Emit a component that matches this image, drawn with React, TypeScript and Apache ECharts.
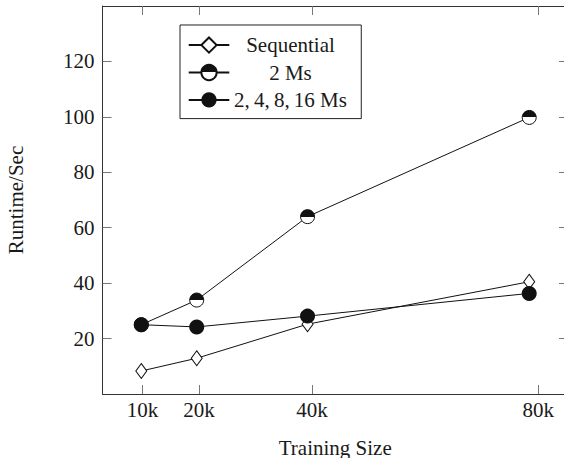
import React, { useEffect, useRef } from "react";
import * as echarts from "echarts";

const xValues = [9.8, 19.6, 39.2, 78.4];
const xTickValues = [10, 20, 40, 80];
const xTickLabels = ["10k", "20k", "40k", "80k"];
const yTickValues = [20, 40, 60, 80, 100, 120];
const sequential = [8.3, 12.9, 25.2, 40.5];
const twoMs = [25, 33.9, 64, 99.8];
const multiMs = [25, 24.2, 28.1, 36.3];
const seriesNames = ["Sequential", "2 Ms", "2,\u20094,\u20098,\u200916 Ms"];

const FONT = "Liberation Serif";
const TEXT = "#1a1a1a";

export default function App() {
  const ref = useRef<HTMLDivElement>(null);
  useEffect(() => {
    if (!ref.current) return;
    const chart = echarts.init(ref.current, null, { renderer: "svg" });
    const halfFill = new echarts.graphic.LinearGradient(0, 0, 0, 1, [
      { offset: 0, color: "#111" },
      { offset: 0.5, color: "#111" },
      { offset: 0.5, color: "#fff" },
      { offset: 1, color: "#fff" },
    ]);
    const toPairs = (ys: number[]) => ys.map((y, i) => [xValues[i], y]);
    const xBase = {
      type: "value" as const,
      min: 2.94,
      max: 85.26,
      splitLine: { show: false },
      axisLine: { show: true, onZero: false, lineStyle: { color: "#333", width: 1 } },
      axisTick: {
        show: true,
        inside: true,
        length: 9,
        customValues: xTickValues,
        lineStyle: { color: "#777", width: 1 },
      },
    };
    const yBase = {
      type: "value" as const,
      min: 0,
      max: 140,
      splitLine: { show: false },
      axisLine: { show: true, onZero: false, lineStyle: { color: "#333", width: 1 } },
      axisTick: {
        show: true,
        inside: true,
        length: 9,
        customValues: yTickValues,
        lineStyle: { color: "#777", width: 1 },
      },
    };
    chart.setOption({
      animation: false,
      backgroundColor: "#fff",
      grid: {
        left: 102.5,
        top: 6,
        width: 465.5,
        height: 388,
        containLabel: false,
        outerBoundsMode: "none",
      },
      xAxis: [
        {
          ...xBase,
          position: "bottom",
          name: "Training Size",
          nameLocation: "middle",
          nameGap: 43,
          nameTextStyle: { fontFamily: FONT, fontSize: 21, color: TEXT },
          axisLabel: {
            customValues: xTickValues,
            formatter: (v: number) => xTickLabels[xTickValues.indexOf(v)] ?? "",
            fontFamily: FONT,
            fontSize: 21,
            color: TEXT,
            margin: 5,
          },
        },
        { ...xBase, position: "top", axisLabel: { show: false } },
      ],
      yAxis: [
        {
          ...yBase,
          position: "left",
          name: "Runtime/Sec",
          nameLocation: "middle",
          nameGap: 76,
          nameRotate: 90,
          nameTextStyle: { fontFamily: FONT, fontSize: 21, color: TEXT },
          axisLabel: {
            customValues: yTickValues,
            fontFamily: FONT,
            fontSize: 21,
            color: TEXT,
            margin: 8,
          },
        },
        { ...yBase, position: "right", axisLabel: { show: false } },
      ],
      legend: {
        orient: "vertical",
        left: 180,
        top: 25,
        padding: [9.6, 14.3, 8.2, 7.7],
        itemWidth: 40.6,
        itemHeight: 19,
        itemGap: 6.4,
        borderColor: "#222",
        borderWidth: 1,
        backgroundColor: "#fff",
        data: seriesNames,
        formatter: (name: string) => `{t|${name}}`,
        textStyle: {
          rich: {
            t: {
              width: 112.4,
              align: "center",
              fontFamily: FONT,
              fontSize: 21,
              color: TEXT,
            },
          },
        },
      },
      series: [
        {
          name: seriesNames[0],
          type: "line",
          data: toPairs(sequential),
          symbol: "diamond",
          symbolSize: [11, 15],
          lineStyle: { color: "#111", width: 1 },
          itemStyle: { color: "#fff", borderColor: "#111", borderWidth: 1 },
          z: 3,
        },
        {
          name: seriesNames[1],
          type: "line",
          data: toPairs(twoMs),
          symbol: "circle",
          symbolSize: 14,
          lineStyle: { color: "#111", width: 1 },
          itemStyle: { color: halfFill, borderColor: "#111", borderWidth: 1 },
          z: 4,
        },
        {
          name: seriesNames[2],
          type: "line",
          data: toPairs(multiMs),
          symbol: "circle",
          symbolSize: 15,
          lineStyle: { color: "#111", width: 1 },
          itemStyle: { color: "#111", borderColor: "#111", borderWidth: 0 },
          z: 5,
        },
      ],
    });
    return () => chart.dispose();
  }, []);
  return (
    <div
      style={{
        position: "absolute",
        left: 0,
        top: 0,
        width: 564,
        height: 458,
        overflow: "hidden",
        background: "#fff",
      }}
    >
      <div ref={ref} style={{ width: 572, height: 458 }} />
    </div>
  );
}
